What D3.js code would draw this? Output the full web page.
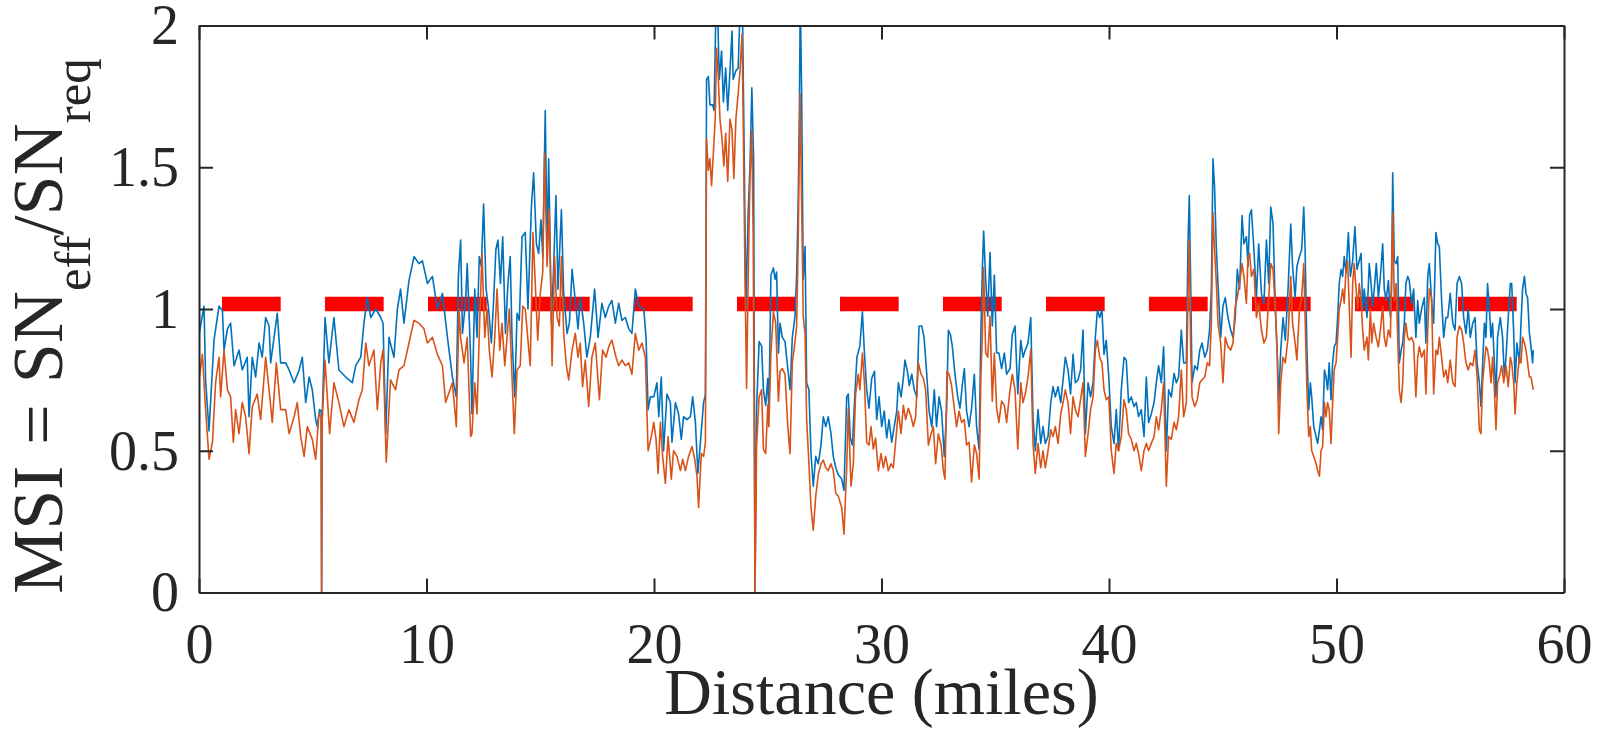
<!DOCTYPE html>
<html><head><meta charset="utf-8">
<script src="https://cdn.jsdelivr.net/npm/d3@7"></script>
<style>
body{margin:0;background:#fff;}
svg{display:block;}
text{font-family:"Liberation Serif","Times New Roman",serif;fill:#262626;}
</style>
</head><body>
<svg id="chart" width="1600" height="751"></svg>
<script>
// ---- data ----
const xTicks = [0, 10, 20, 30, 40, 50, 60];
const yTicks = [0, 0.5, 1, 1.5, 2];
const yTickLabels = ["0", "0.5", "1", "1.5", "2"];
const xLabel = "Distance (miles)";
const thresholdValue = 1.018;
const thresholdRange = [1.01, 57.93];

const blueSeries = [
[0,0.91],[0.22,1.01],[0.29,0.75],[0.44,0.57],[0.66,0.89],[0.88,1.01],[1.03,0.995],[1.10,0.855],[1.25,0.93],[1.39,0.95],[1.54,0.80],[1.76,0.855],[1.90,0.785],[2.12,0.83],[2.20,0.62],[2.34,0.83],[2.49,0.76],[2.64,0.88],[2.78,0.83],[2.93,0.97],[3.08,0.94],[3.15,0.81],[3.30,0.90],[3.44,0.985],[3.59,0.81],[3.81,0.81],[3.96,0.785],[4.18,0.74],[4.40,0.785],[4.54,0.83],[4.69,0.67],[4.84,0.76],[4.98,0.715],[5.13,0.61],[5.20,0.585],[5.30,0.645],[5.37,0.64],[5.39,0],[5.41,0.6],[5.54,0.97],[5.71,0.81],[5.93,0.97],[6.15,0.785],[6.45,0.76],[6.74,0.74],[6.89,0.80],[7.11,0.83],[7.25,0.95],[7.40,1.04],[7.55,0.97],[7.77,1.0],[7.99,0.97],[8.09,0.95],[8.21,0.56],[8.35,0.90],[8.57,0.83],[8.72,1.0],[8.86,1.07],[9.01,0.95],[9.23,1.10],[9.45,1.185],[9.67,1.16],[9.82,1.17],[10.04,1.09],[10.26,1.115],[10.48,1.0],[10.70,1.055],[10.92,0.90],[11.14,0.76],[11.31,0.69],[11.40,1.115],[11.50,1.243],[11.58,0.914],[11.72,1.03],[11.79,1.16],[11.94,0.83],
[12.0,0.63],[12.12,1.07],[12.22,0.90],[12.32,1.185],[12.41,1.15],[12.51,1.37],[12.62,1.07],[12.73,1.0],[12.85,0.88],[12.95,1.03],[13.05,1.21],[13.14,1.243],[13.25,1.09],[13.35,1.255],[13.47,0.914],[13.58,1.09],[13.68,1.185],[13.76,0.90],[13.88,0.69],[13.98,0.985],[14.08,0.96],[14.20,1.255],[14.34,1.27],[14.46,1.0],[14.61,1.36],[14.71,1.48],[14.83,1.23],[14.93,1.196],[15.03,1.315],[15.11,1.185],[15.22,1.70],[15.30,1.21],[15.37,1.53],[15.49,0.95],[15.59,1.15],[15.69,1.40],[15.78,1.07],[15.93,1.35],[16.03,1.055],[16.18,0.914],[16.28,0.95],[16.40,1.14],[16.54,1.03],[16.66,0.93],[16.76,1.04],[16.91,0.95],[17.05,0.83],[17.20,0.90],[17.39,1.07],[17.54,0.90],[17.71,1.02],[17.86,0.97],[18.01,1.01],[18.15,1.03],[18.30,0.95],[18.45,1.02],[18.59,0.96],[18.74,0.97],[18.89,0.93],[19.03,0.914],[19.18,1.07],[19.33,1.01],[19.55,1.0],[19.65,0.90],[19.74,0.645],[19.84,0.69],[19.99,0.69],[20.13,0.74],[20.21,0.62],[20.32,0.76],[20.42,0.50],[20.57,0.70],[20.72,0.67],[20.79,0.53],[20.94,0.67],[21.08,0.63],[21.20,0.54],[21.30,0.62],[21.45,0.61],[21.60,0.62],[21.70,0.69],[21.82,0.60],[21.93,0.42],[22.08,0.57],[22.18,0.67],[22.26,0.70],
[22.31,1.81],[22.39,1.82],[22.46,1.72],[22.58,1.72],[22.64,1.70],[22.72,2.05],[22.78,2.1],[22.87,1.81],[22.97,1.91],[23.05,1.73],[23.15,1.85],[23.24,1.70],[23.34,1.84],[23.43,1.98],[23.48,1.81],[23.60,1.84],[23.70,1.85],[23.78,2.05],[23.89,2.05],[23.97,1.505],[24.04,1.0],[24.14,1.34],[24.22,1.505],[24.30,1.78],[24.38,1.53],[24.44,0],
[24.51,0.65],[24.62,0.885],[24.73,0.87],[24.81,0.715],[24.91,0.66],[25.0,0.755],[25.05,0.64],[25.14,1.12],[25.25,1.145],[25.32,1.105],[25.39,1.13],[25.47,0.845],[25.54,0.95],[25.64,0.90],[25.76,0.885],[25.88,0.79],[25.98,0.715],[26.08,0.90],[26.20,0.975],[26.27,1.12],[26.34,1.39],[26.39,1.69],[26.43,2.1],[26.49,1.76],[26.56,1.105],[26.64,1.22],[26.71,0.74],[26.81,0.715],[26.90,0.49],[27.0,0.375],[27.11,0.48],[27.22,0.454],[27.34,0.52],[27.44,0.62],[27.55,0.585],[27.66,0.62],[27.78,0.56],[27.88,0.48],[27.99,0.44],[28.10,0.415],[28.25,0.40],[28.35,0.36],[28.47,0.69],[28.54,0.70],[28.63,0.545],[28.72,0.52],[28.84,0.715],[28.92,0.83],[29.05,0.87],[29.16,0.99],[29.25,0.845],[29.35,0.715],[29.45,0.65],[29.57,0.755],[29.69,0.78],[29.79,0.61],[29.89,0.69],[30.01,0.585],[30.12,0.64],[30.23,0.545],[30.33,0.61],[30.45,0.53],[30.56,0.585],[30.67,0.64],[30.74,0.74],[30.86,0.69],[30.96,0.755],[31.03,0.82],[31.14,0.78],[31.22,0.73],[31.33,0.77],[31.44,0.715],[31.55,0.69],[31.65,0.94],[31.77,0.94],[31.87,0.90],[31.99,0.77],[32.09,0.64],[32.21,0.585],[32.32,0.715],[32.42,0.585],[32.53,0.69],[32.64,0.64],[32.76,0.48],[32.86,0.64],[32.94,0.925],[33.03,0.91],[33.11,0.87],[33.23,0.77],[33.35,0.69],[33.45,0.65],[33.55,0.73],[33.64,0.79],[33.74,0.64],[33.85,0.585],[33.96,0.65],[34.08,0.77],[34.18,0.585],[34.29,0.506],[34.37,0.925],[34.43,1.13],[34.49,1.275],[34.58,1.105],[34.67,0.975],[34.77,1.20],[34.87,0.94],[34.96,1.12],[35.06,0.845],[35.16,0.845],[35.28,0.79],[35.40,0.845],[35.50,0.77],[35.65,0.79],[35.75,0.91],[35.87,0.94],[35.99,0.70],
[36.12,0.89],[36.22,0.83],[36.32,0.855],[36.44,0.88],[36.56,0.97],[36.66,0.62],[36.76,0.50],[36.88,0.645],[37.0,0.526],[37.10,0.585],[37.20,0.526],[37.32,0.55],[37.44,0.67],[37.54,0.726],[37.64,0.69],[37.76,0.726],[37.88,0.67],[37.98,0.75],[38.08,0.83],[38.20,0.785],[38.31,0.70],[38.42,0.84],[38.52,0.74],[38.64,0.75],[38.75,0.785],[38.86,0.926],[38.96,0.56],[39.08,0.74],[39.19,0.69],[39.30,0.74],[39.40,0.90],[39.49,0.997],[39.59,0.97],[39.69,0.997],[39.78,0.84],[39.88,0.89],[39.99,0.76],[40.10,0.585],[40.22,0.526],[40.32,0.645],[40.42,0.50],[40.54,0.715],[40.66,0.83],[40.76,0.82],[40.86,0.67],[40.98,0.69],[41.10,0.656],[41.20,0.67],[41.30,0.62],[41.42,0.645],[41.54,0.55],[41.64,0.76],[41.74,0.60],[41.86,0.63],[41.98,0.67],[42.08,0.74],[42.18,0.80],[42.30,0.74],[42.40,0.867],[42.52,0.50],[42.62,0.715],[42.74,0.69],[42.86,0.773],[42.96,0.74],[43.06,0.76],[43.18,0.926],[43.28,0.81],[43.40,0.81],[43.47,1.22],[43.53,1.40],[43.59,1.09],[43.65,0.74],[43.77,0.80],[43.88,0.785],[43.99,0.855],[44.09,0.88],[44.21,0.83],[44.32,0.855],[44.42,0.926],[44.50,1.07],[44.57,1.53],[44.64,1.43],[44.72,1.21],[44.79,1.09],[44.91,0.90],[45.01,1.01],[45.11,1.04],[45.23,0.97],[45.35,0.926],[45.45,0.90],[45.55,0.97],[45.64,1.14],[45.74,1.07],[45.85,1.33],[45.93,1.23],[46.04,1.255],[46.11,1.15],[46.18,1.33],[46.26,1.35],[46.37,1.21],[46.48,1.04],[46.58,1.23],[46.70,1.055],[46.81,1.02],[46.92,1.243],[47.02,1.09],[47.11,1.36],[47.21,1.30],[47.31,1.01],[47.40,0.83],[47.46,0.67],[47.55,0.855],[47.65,0.97],[47.75,0.89],[47.87,1.07],[47.99,1.30],
[48.07,1.15],[48.18,1.04],[48.26,1.15],[48.37,1.185],[48.47,1.21],[48.56,1.36],[48.62,1.21],[48.70,0.855],[48.78,0.645],[48.85,0.74],[48.91,0.69],[49.0,0.585],[49.10,0.55],[49.17,0.526],[49.25,0.574],[49.32,0.62],[49.39,0.574],[49.47,0.785],[49.54,0.76],[49.61,0.715],[49.68,0.81],[49.76,0.68],[49.83,0.81],[49.90,0.867],[49.98,0.88],[50.05,0.97],[50.12,1.09],[50.20,1.14],[50.27,1.115],[50.34,1.185],[50.42,1.126],[50.52,1.27],[50.61,1.115],[50.71,1.17],[50.81,1.29],[50.90,1.14],[51.0,1.17],[51.08,1.196],[51.15,1.0],[51.22,1.07],[51.34,0.97],[51.44,1.16],[51.52,1.09],[51.59,1.01],[51.66,1.07],[51.75,1.16],[51.84,1.04],[51.93,1.115],[52.03,1.23],[52.10,1.07],[52.18,1.03],[52.28,1.10],[52.37,0.97],[52.42,1.07],[52.47,1.48],[52.54,1.17],[52.62,1.16],[52.69,1.185],[52.76,0.81],[52.84,0.855],[52.91,0.88],[52.98,0.95],[53.05,1.09],[53.13,1.115],[53.20,1.10],[53.30,1.02],[53.39,1.07],[53.49,0.90],[53.57,1.03],[53.64,0.95],[53.74,1.0],[53.86,1.04],[53.93,0.88],[54.01,1.115],[54.08,1.16],[54.18,1.03],[54.27,0.95],[54.37,1.27],[54.45,1.23],[54.52,1.22],[54.62,1.03],[54.71,0.90],[54.81,0.97],[54.89,0.97],[55.0,1.055],[55.11,0.95],[55.21,0.926],[55.30,1.09],[55.40,1.115],[55.50,1.09],[55.59,0.97],[55.69,0.914],[55.79,1.0],[55.88,0.90],[55.99,0.95],[56.09,0.97],[56.18,0.81],[56.28,0.74],[56.35,0.656],[56.42,0.80],[56.50,0.95],[56.57,0.90],[56.64,1.09],[56.72,1.0],[56.79,0.90],[56.86,0.95],[56.94,0.81],[57.01,0.69],[57.08,0.90],[57.20,0.97],[57.30,0.90],[57.38,0.76],[57.45,0.83],[57.55,0.97],[57.64,1.09],[57.70,1.09],[57.79,0.914],[57.85,0.74],[57.93,0.88],[58.04,0.81],[58.11,0.95],[58.18,1.07],[58.26,1.115],[58.33,1.055],[58.40,1.04],[58.48,0.914],[58.55,0.867],[58.62,0.81],[58.65,0.855]
];

const orangeSeries = [
[0,0.75],[0.15,0.84],[0.29,0.645],[0.44,0.47],[0.59,0.53],[0.73,0.74],[0.88,0.83],[0.95,0.69],[1.10,0.855],[1.25,0.715],[1.39,0.69],[1.51,0.53],[1.61,0.645],[1.76,0.56],[1.90,0.67],[2.05,0.62],[2.20,0.49],[2.34,0.655],[2.56,0.70],[2.71,0.61],[2.93,0.83],[3.08,0.715],[3.22,0.60],[3.40,0.81],[3.59,0.645],[3.81,0.645],[3.96,0.56],[4.18,0.62],[4.32,0.67],[4.47,0.55],[4.62,0.48],[4.76,0.585],[4.98,0.54],[5.13,0.47],[5.27,0.63],[5.37,0.62],[5.39,0],[5.41,0.6],[5.54,0.82],[5.74,0.56],[5.93,0.74],[6.15,0.67],[6.37,0.585],[6.59,0.645],[6.81,0.60],[7.03,0.68],[7.18,0.715],[7.33,0.88],[7.47,0.80],[7.69,0.855],[7.84,0.645],[7.99,0.81],[8.09,0.855],[8.23,0.46],[8.42,0.75],[8.64,0.715],[8.79,0.785],[9.01,0.80],[9.23,0.88],[9.45,0.96],[9.67,0.95],[9.89,0.93],[10.04,0.88],[10.26,0.90],[10.48,0.84],[10.70,0.80],[10.84,0.67],[11.14,0.74],[11.31,0.585],[11.43,1.0],[11.50,0.90],[11.65,0.81],[11.79,0.90],[11.94,0.55],
[12.0,0.56],[12.12,0.74],[12.22,0.63],[12.32,0.914],[12.44,1.196],[12.56,0.90],[12.66,1.0],[12.76,0.855],[12.88,0.76],[13.0,0.90],[13.10,1.07],[13.22,0.855],[13.32,0.95],[13.44,0.80],[13.54,0.90],[13.64,1.0],[13.76,0.76],[13.86,0.56],[13.98,0.785],[14.12,0.80],[14.23,1.01],[14.34,1.0],[14.46,0.89],[14.56,0.80],[14.68,1.27],[14.78,1.09],[14.89,0.89],[15.0,1.055],[15.11,1.13],[15.19,1.55],[15.30,1.15],[15.40,1.35],[15.52,0.80],[15.63,1.185],[15.74,0.97],[15.84,0.94],[15.93,1.185],[16.03,0.914],[16.15,0.80],[16.25,0.75],[16.40,0.855],[16.54,0.914],[16.66,0.83],[16.76,0.88],[16.86,0.726],[16.98,0.82],[17.13,0.656],[17.27,0.83],[17.42,0.88],[17.60,0.68],[17.74,0.855],[17.89,0.83],[18.01,0.867],[18.15,0.89],[18.33,0.83],[18.45,0.80],[18.59,0.82],[18.74,0.80],[18.89,0.81],[19.03,0.77],[19.18,0.914],[19.33,0.855],[19.47,0.88],[19.62,0.83],[19.74,0.50],[19.88,0.55],[19.99,0.60],[20.09,0.54],[20.18,0.42],[20.28,0.60],[20.38,0.48],[20.50,0.385],[20.62,0.55],[20.76,0.40],[20.86,0.50],[21.01,0.48],[21.16,0.43],[21.26,0.47],[21.38,0.43],[21.52,0.48],[21.67,0.515],[21.79,0.47],[21.89,0.41],[21.96,0.30],[22.08,0.49],[22.18,0.48],[22.26,0.53],
[22.31,1.60],[22.39,1.49],[22.46,1.53],[22.53,1.435],[22.61,1.55],[22.69,1.67],[22.75,1.92],[22.83,1.81],[22.90,1.67],[22.99,1.60],[23.07,1.505],[23.15,1.62],[23.24,1.45],[23.34,1.67],[23.43,1.63],[23.51,1.46],[23.60,1.67],[23.70,1.76],[23.78,1.84],[23.87,1.97],[23.92,1.67],[24.00,1.115],[24.07,0.72],[24.14,1.115],[24.22,1.46],[24.30,1.63],[24.36,1.25],[24.44,0],
[24.51,0.52],[24.62,0.69],[24.73,0.715],[24.81,0.506],[24.91,0.49],[25.0,0.66],[25.05,0.585],[25.14,0.845],[25.25,0.99],[25.35,0.95],[25.47,0.675],[25.54,0.78],[25.64,0.79],[25.76,0.77],[25.88,0.585],[25.98,0.49],[26.08,0.81],[26.20,0.885],[26.27,0.94],[26.34,1.24],[26.42,1.76],[26.49,1.37],[26.56,0.975],[26.64,0.91],[26.71,0.61],[26.81,0.454],[26.90,0.30],[27.0,0.22],[27.11,0.34],[27.22,0.415],[27.34,0.454],[27.44,0.467],[27.55,0.44],[27.66,0.43],[27.78,0.454],[27.88,0.43],[27.99,0.35],[28.10,0.34],[28.25,0.30],[28.35,0.206],[28.47,0.44],[28.54,0.65],[28.66,0.375],[28.76,0.454],[28.86,0.70],[28.98,0.77],[29.05,0.715],[29.16,0.845],[29.25,0.74],[29.35,0.53],[29.45,0.52],[29.54,0.585],[29.64,0.506],[29.74,0.545],[29.86,0.43],[29.98,0.49],[30.08,0.44],[30.18,0.48],[30.30,0.43],[30.42,0.454],[30.52,0.44],[30.62,0.53],[30.74,0.64],[30.86,0.56],[30.96,0.66],[31.06,0.61],[31.18,0.65],[31.30,0.62],[31.40,0.585],[31.50,0.62],[31.62,0.81],[31.74,0.77],[31.84,0.755],[31.94,0.715],[32.06,0.52],[32.18,0.56],[32.28,0.585],[32.38,0.454],[32.50,0.56],[32.62,0.52],[32.72,0.43],[32.79,0.40],[32.88,0.78],[32.97,0.77],[33.08,0.73],[33.20,0.65],[33.30,0.585],[33.41,0.64],[33.52,0.60],[33.64,0.61],[33.74,0.52],[33.85,0.53],[33.96,0.39],[34.08,0.52],[34.18,0.49],[34.29,0.40],[34.37,0.77],[34.43,0.90],[34.49,1.145],[34.58,0.845],[34.67,0.83],[34.77,0.975],[34.87,0.675],[34.96,0.845],[35.06,0.65],[35.16,0.60],[35.28,0.675],[35.40,0.66],[35.50,0.60],[35.65,0.715],[35.75,0.77],[35.87,0.715],[35.99,0.506],
[36.12,0.74],[36.22,0.67],[36.32,0.70],[36.44,0.76],[36.56,0.855],[36.66,0.526],[36.76,0.42],[36.88,0.526],[37.0,0.44],[37.10,0.50],[37.20,0.44],[37.32,0.50],[37.44,0.574],[37.54,0.55],[37.64,0.585],[37.76,0.526],[37.88,0.63],[37.98,0.67],[38.08,0.715],[38.20,0.67],[38.31,0.56],[38.42,0.69],[38.52,0.645],[38.64,0.62],[38.75,0.68],[38.86,0.74],[38.96,0.48],[39.08,0.56],[39.19,0.645],[39.30,0.69],[39.40,0.855],[39.49,0.89],[39.59,0.83],[39.69,0.81],[39.78,0.715],[39.88,0.68],[39.99,0.69],[40.10,0.50],[40.22,0.42],[40.32,0.526],[40.42,0.50],[40.54,0.55],[40.66,0.68],[40.76,0.645],[40.86,0.56],[40.98,0.54],[41.10,0.50],[41.20,0.526],[41.30,0.49],[41.42,0.43],[41.54,0.50],[41.64,0.526],[41.74,0.50],[41.86,0.526],[41.98,0.55],[42.08,0.62],[42.18,0.574],[42.30,0.645],[42.40,0.74],[42.52,0.375],[42.62,0.55],[42.74,0.54],[42.86,0.60],[42.96,0.574],[43.06,0.62],[43.18,0.785],[43.28,0.62],[43.40,0.67],[43.47,1.04],[43.53,1.243],[43.59,0.855],[43.65,0.69],[43.77,0.656],[43.88,0.68],[43.99,0.74],[44.09,0.75],[44.21,0.76],[44.32,0.81],[44.42,0.80],[44.50,0.95],[44.57,1.34],[44.64,1.21],[44.72,1.09],[44.79,0.95],[44.91,0.88],[45.01,0.74],[45.11,0.90],[45.23,0.867],[45.35,0.855],[45.45,0.88],[45.55,1.01],[45.64,1.04],[45.74,1.09],[45.85,1.16],[45.93,1.115],[46.04,1.02],[46.11,1.185],[46.18,1.196],[46.26,1.115],[46.37,1.14],[46.48,0.97],[46.58,1.02],[46.70,0.926],[46.81,0.88],[46.92,0.90],[47.02,1.04],[47.11,1.16],[47.21,1.14],[47.31,1.0],[47.40,0.83],[47.46,0.56],[47.55,0.74],[47.65,0.83],[47.75,0.81],[47.87,0.90],[47.99,1.115],
[48.07,0.95],[48.18,0.88],[48.26,0.82],[48.37,1.0],[48.47,1.04],[48.56,1.16],[48.62,0.97],[48.70,0.715],[48.78,0.55],[48.85,0.585],[48.91,0.50],[49.0,0.48],[49.10,0.456],[49.17,0.43],[49.25,0.41],[49.32,0.50],[49.39,0.515],[49.47,0.67],[49.54,0.62],[49.61,0.67],[49.68,0.645],[49.76,0.526],[49.83,0.67],[49.90,0.785],[49.98,0.81],[50.05,0.90],[50.12,1.0],[50.20,1.03],[50.27,1.07],[50.34,1.02],[50.42,1.14],[50.49,1.17],[50.56,1.01],[50.64,0.83],[50.71,1.09],[50.78,1.16],[50.86,1.07],[50.93,1.0],[51.0,1.09],[51.08,1.03],[51.15,0.926],[51.22,0.855],[51.34,0.90],[51.40,0.82],[51.49,1.0],[51.55,0.88],[51.63,0.95],[51.74,0.90],[51.84,0.867],[51.93,0.926],[52.03,1.01],[52.10,0.90],[52.18,0.867],[52.28,0.926],[52.37,0.90],[52.47,1.34],[52.54,1.03],[52.62,1.09],[52.69,0.90],[52.76,0.715],[52.84,0.67],[52.91,0.74],[52.98,0.90],[53.05,0.95],[53.13,0.90],[53.20,0.89],[53.30,0.90],[53.39,0.88],[53.49,0.69],[53.57,0.83],[53.64,0.867],[53.74,0.83],[53.86,0.855],[53.93,0.70],[54.01,0.926],[54.08,1.07],[54.18,1.04],[54.27,0.70],[54.37,0.855],[54.45,0.84],[54.52,0.90],[54.62,0.83],[54.71,0.76],[54.81,0.785],[54.89,0.74],[55.0,0.82],[55.11,0.74],[55.21,0.726],[55.30,0.90],[55.40,0.94],[55.50,0.926],[55.59,0.88],[55.69,0.81],[55.79,0.785],[55.88,0.81],[55.99,0.80],[56.09,0.855],[56.18,0.76],[56.28,0.574],[56.35,0.56],[56.42,0.74],[56.50,0.81],[56.57,0.867],[56.64,0.855],[56.72,0.81],[56.79,0.74],[56.86,0.83],[56.94,0.715],[57.01,0.574],[57.08,0.74],[57.16,0.76],[57.26,0.80],[57.35,0.74],[57.45,0.80],[57.55,0.726],[57.64,0.83],[57.70,0.81],[57.79,0.74],[57.85,0.63],[57.93,0.74],[58.04,0.83],[58.11,0.81],[58.18,0.90],[58.26,0.88],[58.33,0.855],[58.40,0.81],[58.48,0.76],[58.55,0.76],[58.65,0.715]
];

// ---- layout ----
const plot = {left: 199, right: 1564, top: 25.5, bottom: 592.5};
const axisColor = "#262626";
const tickLen = 14;

const svg = d3.select("#chart");
const x = d3.scaleLinear().domain([0, 60]).range([plot.left, plot.right]);
const y = d3.scaleLinear().domain([0, 2]).range([plot.bottom, plot.top]);

svg.append("defs").append("clipPath").attr("id", "clip")
  .append("rect").attr("x", plot.left).attr("y", plot.top)
  .attr("width", plot.right - plot.left).attr("height", plot.bottom - plot.top);

const gData = svg.append("g").attr("clip-path", "url(#clip)");

// threshold dashed line
gData.append("path")
  .datum(thresholdRange.map(d => [d, thresholdValue]))
  .attr("d", d3.line().x(d => x(d[0])).y(d => y(d[1])))
  .attr("stroke", "#ff0000").attr("stroke-width", 14.5)
  .attr("stroke-dasharray", "58.7,44.3").attr("fill", "none");

const line = d3.line().x(d => x(d[0])).y(d => y(d[1]));
gData.append("path").datum(blueSeries).attr("d", line)
  .attr("fill", "none").attr("stroke", "#0072BD").attr("stroke-width", 1.6)
  .attr("stroke-linejoin", "round");
gData.append("path").datum(orangeSeries).attr("d", line)
  .attr("fill", "none").attr("stroke", "#D95319").attr("stroke-width", 1.6)
  .attr("stroke-linejoin", "round");

// axes
function styleAxis(g) {
  g.selectAll(".domain").attr("stroke", axisColor).attr("stroke-width", 2);
  g.selectAll(".tick line").attr("stroke", axisColor).attr("stroke-width", 2);
  g.selectAll("text").attr("fill", axisColor)
    .style("font-family", '"Liberation Serif","Times New Roman",serif')
    .style("font-size", "56px");
}
const gx = svg.append("g").attr("transform", `translate(0,${plot.bottom})`)
  .call(d3.axisBottom(x).tickValues(xTicks).tickFormat(d3.format("d"))
    .tickSizeInner(-tickLen).tickSizeOuter(0).tickPadding(31));
styleAxis(gx);
const gxt = svg.append("g").attr("transform", `translate(0,${plot.top})`)
  .call(d3.axisTop(x).tickValues(xTicks).tickFormat("")
    .tickSizeInner(-tickLen).tickSizeOuter(0));
styleAxis(gxt);
const gy = svg.append("g").attr("transform", `translate(${plot.left},0)`)
  .call(d3.axisLeft(y).tickValues(yTicks).tickFormat((d, i) => yTickLabels[i])
    .tickSizeInner(-tickLen).tickSizeOuter(0).tickPadding(20));
styleAxis(gy);
gy.selectAll("text").attr("dy", "0.33em");
const gyr = svg.append("g").attr("transform", `translate(${plot.right},0)`)
  .call(d3.axisRight(y).tickValues(yTicks).tickFormat("")
    .tickSizeInner(-tickLen).tickSizeOuter(0));
styleAxis(gyr);

// x label
svg.append("text").attr("x", (plot.left + plot.right) / 2).attr("y", 714)
  .attr("text-anchor", "middle").style("font-size", "66px").text(xLabel);

// y label with subscripts
const yl = svg.append("text")
  .attr("transform", `translate(62,326) rotate(-90)`)
  .attr("text-anchor", "middle").style("font-size", "72px");
yl.append("tspan").text("MSI");
yl.append("tspan").attr("dx", 3).text(" = ");
yl.append("tspan").attr("dx", 3).text("SN");
yl.append("tspan").attr("dy", 28).style("font-size", "51px").text("eff");
yl.append("tspan").attr("dy", -28).text("/SN");
yl.append("tspan").attr("dy", 28).style("font-size", "51px").text("req");
</script>
</body></html>
